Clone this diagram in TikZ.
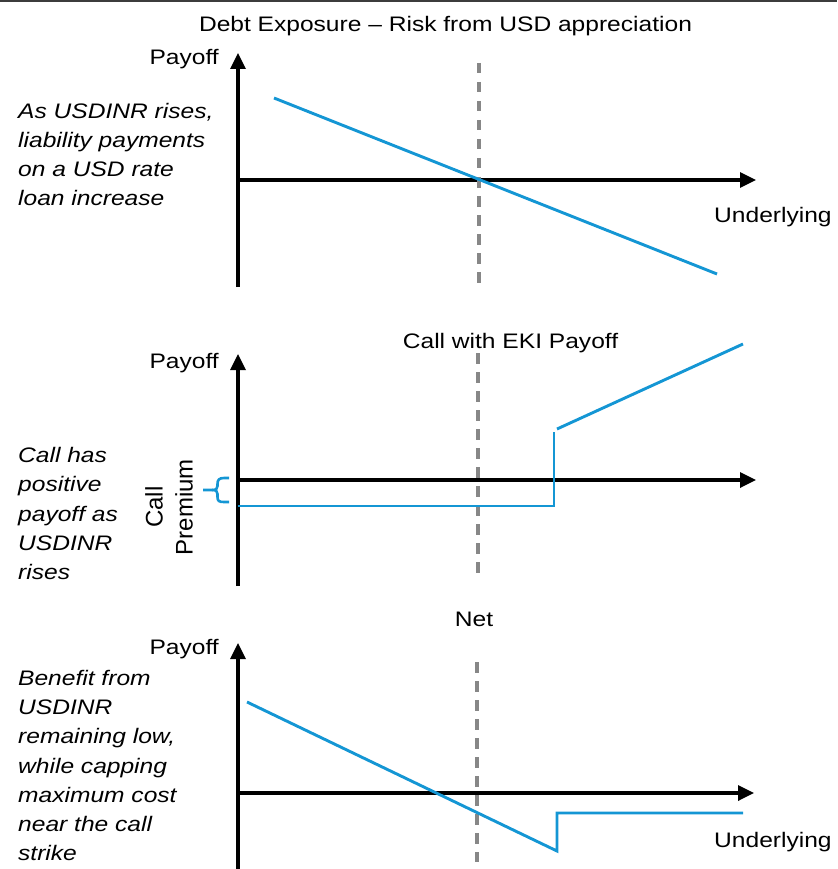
\documentclass[tikz,border=0pt]{standalone}
\usepackage{fontspec}
\setmainfont{Liberation Sans}[FakeStretch=1.17]
\newfontfamily\premfont{Liberation Sans}
\usetikzlibrary{arrows.meta}
\definecolor{payblue}{RGB}{20,150,212}
\definecolor{strikegray}{RGB}{135,135,135}
\definecolor{rulegray}{RGB}{60,60,60}
\tikzset{
  axisline/.style={line width=3.3pt, draw=black, -{Triangle[length=16pt,width=15pt]}},
  axisbar/.style={line width=3.3pt, draw=black},
  payline/.style={line width=2.9pt, draw=payblue, line join=miter},
  strikeline/.style={line width=3.1pt, draw=strikegray, dash pattern=on 10.5pt off 8.5pt},
  lbl/.style={inner sep=0pt, font=\fontsize{21}{25}\selectfont},
  note/.style={inner sep=0pt, align=left, anchor=west,
    font=\fontsize{21}{29.2}\selectfont\itshape},
}
\begin{document}
\begin{tikzpicture}[x=1pt, y=-1pt]
\useasboundingbox (0,0) rectangle (837,869);
\draw[line width=2pt, rulegray] (0,1) -- (837,1);

% ---------- Debt exposure ----------
\node[lbl, anchor=base] (t1) at (445.5,32) {Debt Exposure – Risk from USD appreciation};
\coordinate (a1o) at (238,180);
\coordinate (a1b) at (238,287);
\coordinate (a1t) at (238,53);
\coordinate (a1r) at (756,180);
\draw[axisbar] (a1b) -- (a1o);
\draw[axisline] (a1o) -- (a1t);
\draw[axisline] (a1o) -- (a1r);
\coordinate (k1t) at (479,63);
\coordinate (k1b) at (479,283);
\draw[strikeline] (k1t) -- (k1b);
\coordinate (p1s) at (274,98);
\coordinate (p1e) at (717,274);
\draw[payline] (p1s) -- (p1e);
\node[lbl, anchor=base east] (y1) at (219,65) {Payoff};
\node[lbl, anchor=base west] (x1) at (714,222) {Underlying};
\node[note] (n1) at (18,154.5) {As USDINR rises,\\liability payments\\on a USD rate\\loan increase};

% ---------- Call with EKI ----------
\node[lbl, anchor=base] (t2) at (510.5,348) {Call with EKI Payoff};
\coordinate (a2o) at (238,480);
\coordinate (a2b) at (238,586);
\coordinate (a2t) at (238,354);
\coordinate (a2r) at (756,480);
\draw[axisbar] (a2b) -- (a2o);
\draw[axisline] (a2o) -- (a2t);
\draw[axisline] (a2o) -- (a2r);
\coordinate (k2t) at (478,353);
\coordinate (k2b) at (478,573);
\draw[strikeline] (k2t) -- (k2b);
\coordinate (p2a) at (238,506);
\coordinate (p2b) at (554,506);
\coordinate (p2c) at (554,432);
\coordinate (p2d) at (557,429);
\coordinate (p2e) at (743,344);
\draw[payline] (p2a) -- (p2b) -- (p2c);
\draw[payline] (p2d) -- (p2e);
\node[lbl, anchor=base east] (y2) at (219,368) {Payoff};
\node[note] (n2) at (18,513.5) {Call has\\positive\\payoff as\\USDINR\\rises};
\node[inner sep=0pt, rotate=90, align=center,
      font=\premfont\fontsize{24}{30}\selectfont] (cp) at (169,507) {Call\\Premium};
\draw[line width=2.6pt, payblue, line cap=butt]
  (229,478) -- (224,478) .. controls (219,478) and (217.5,480) .. (217.5,484)
  -- (217.5,486) .. controls (217.5,489) and (216,490) .. (212,490) -- (203,490);
\draw[line width=2.6pt, payblue, line cap=butt]
  (212,490) .. controls (216,490) and (217.5,491) .. (217.5,494)
  -- (217.5,497) .. controls (217.5,501) and (219,502) .. (224,502) -- (229,502);

% ---------- Net ----------
\node[lbl, anchor=base] (t3) at (474,626) {Net};
\coordinate (a3o) at (238,793);
\coordinate (a3b) at (238,869);
\coordinate (a3t) at (238,643);
\coordinate (a3r) at (754,793);
\draw[axisbar] (a3b) -- (a3o);
\draw[axisline] (a3o) -- (a3t);
\draw[axisline] (a3o) -- (a3r);
\coordinate (k3t) at (477,662);
\coordinate (k3b) at (477,862);
\draw[strikeline] (k3t) -- (k3b);
\coordinate (p3a) at (247,702);
\coordinate (p3b) at (557,851);
\coordinate (p3c) at (557,813);
\coordinate (p3d) at (743,813);
\draw[payline] (p3a) -- (p3b) -- (p3c) -- (p3d);
\node[lbl, anchor=base east] (y3) at (219,654) {Payoff};
\node[lbl, anchor=base west] (x3) at (714,847) {Underlying};
\node[note] (n3) at (18,765.5) {Benefit from\\USDINR\\remaining low,\\while capping\\maximum cost\\near the call\\strike};
\end{tikzpicture}
\end{document}
